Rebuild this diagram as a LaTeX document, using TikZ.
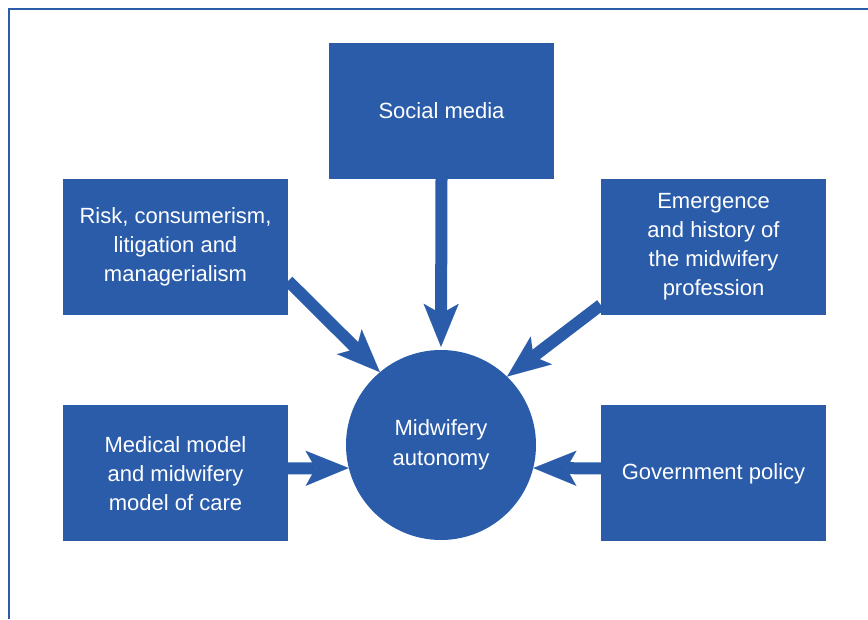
\documentclass[tikz,border=0pt]{standalone}
\usepackage{fontspec}
\setmainfont{Liberation Sans}
\usetikzlibrary{arrows.meta,positioning}
\definecolor{midblue}{RGB}{42,92,170}
\tikzset{
    factor/.style={
           rectangle,
           fill=midblue,
           text=white,
           minimum width=225pt,
           minimum height=136pt,
           inner sep=4pt,
           align=center,
           font=\fontsize{22}{29}\selectfont,
           },
    hub/.style={
           circle,
           fill=midblue,
           text=white,
           minimum size=190pt,
           inner sep=0,
           align=center,
           font=\fontsize{22}{30}\selectfont,
           },
    pil/.style={
           -{Stealth[length=43pt,width=35pt,inset=10pt,line width=0.01pt]},
           line width=12pt,
           draw=midblue,
           }
}

\begin{document}
\begin{tikzpicture}[x=1pt,y=1pt]
\useasboundingbox (0,0) rectangle (868,619);
% frame
\draw[midblue, line width=2pt] (9,0) -- (9,610) -- (868,610);
\node[hub] (aut) at (441,174) {Midwifery\\autonomy};
\node[factor] (social) at (441.5,508) {Social media};
\node[factor] (risk) at (175.5,372) {Risk, consumerism,\\litigation and\\managerialism};
\node[factor] (emerg) at (713.5,372) {Emergence\\and history of\\the midwifery\\profession};
\node[factor, below=90pt of risk] (medical) {Medical model\\and midwifery\\model of care};
\node[factor, below=90pt of emerg] (gov) {Government policy};
\draw[pil] (social.south) -- ([yshift=3pt]aut.north);
\draw[pil] ([yshift=-34pt]risk.east) -- (aut.130);
\draw[pil] ([yshift=-58pt]emerg.west) -- (aut.46);
\draw[pil] ([yshift=5pt]medical.east) -- (aut.194);
\draw[pil] ([yshift=5pt]gov.west) -- (aut.-14);
\end{tikzpicture}
\end{document}
